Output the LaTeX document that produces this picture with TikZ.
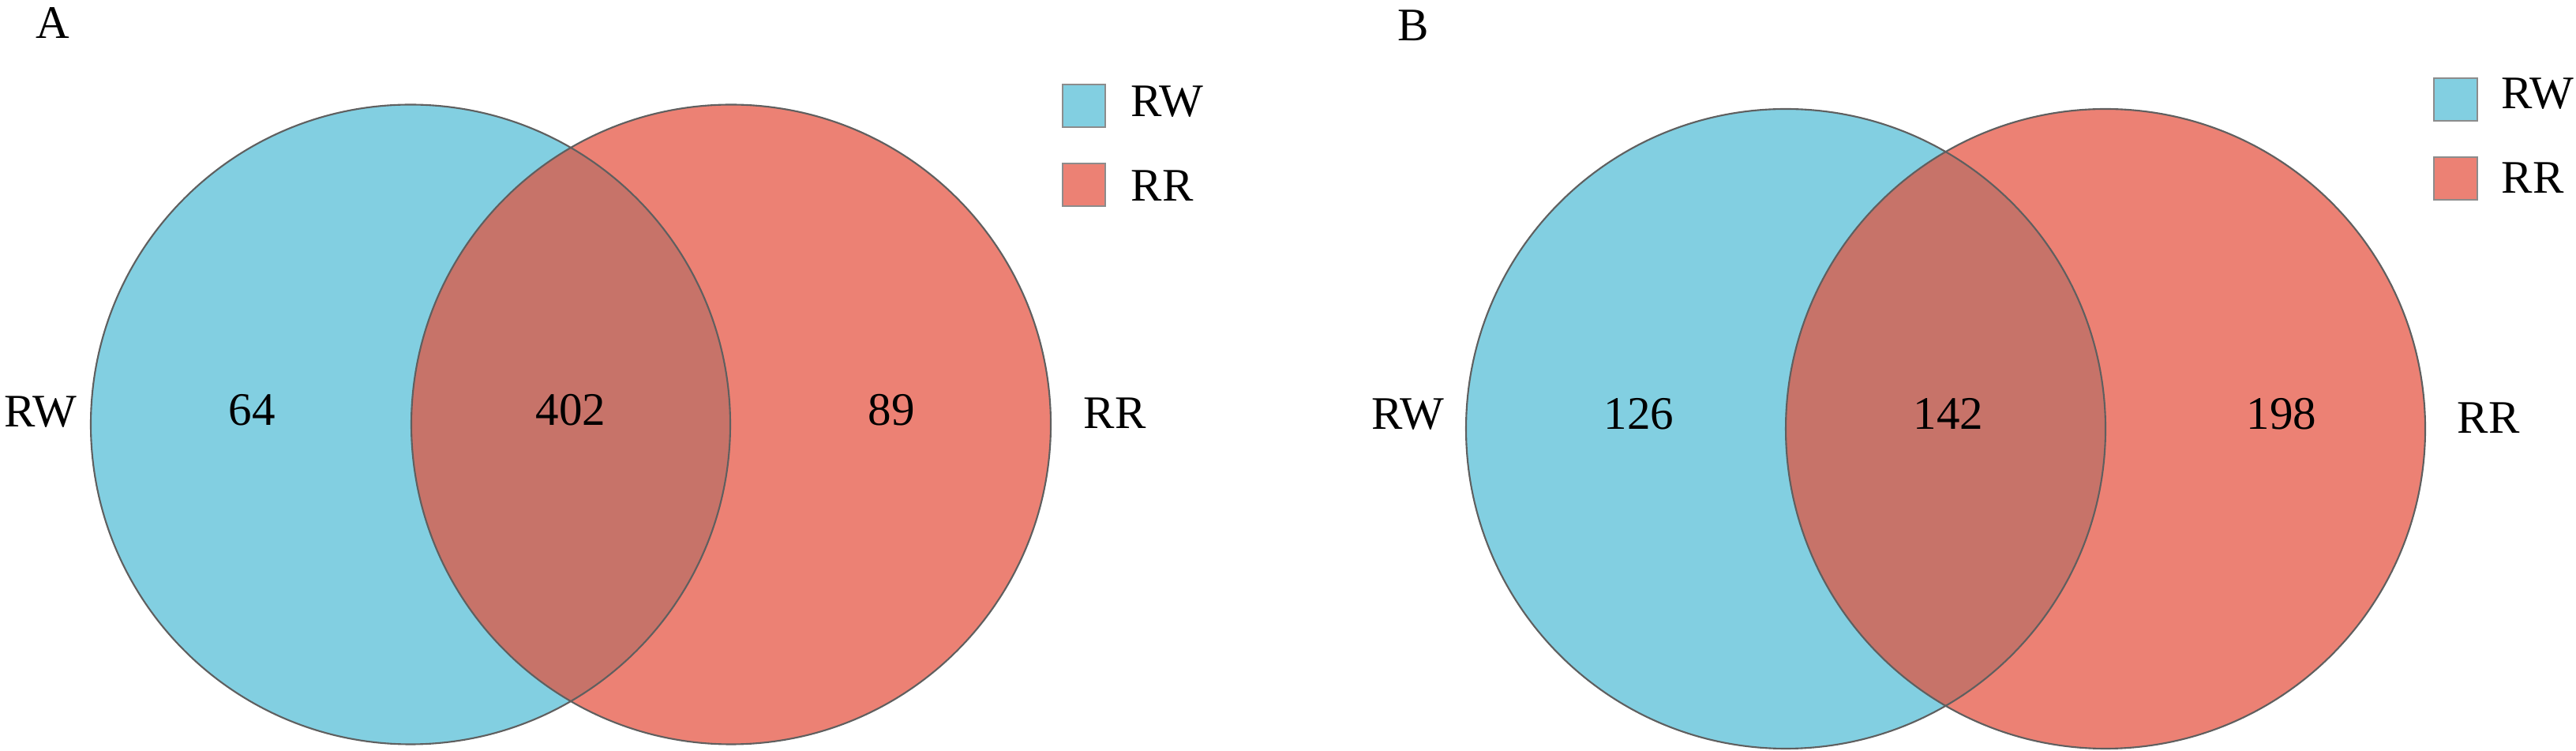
\documentclass[tikz,border=0pt]{standalone}
\usepackage{fontspec}
\setmainfont{Liberation Serif}
\usepackage{tikz}

\definecolor{rwblue}{RGB}{130,207,225}
\definecolor{rrred}{RGB}{236,129,116}
\definecolor{rwrr}{RGB}{199,115,105}
\definecolor{rimgray}{RGB}{95,95,95}
\definecolor{keygray}{RGB}{140,140,140}

\begin{document}
\begin{tikzpicture}[every node/.style={inner sep=0pt, font=\fontsize{16.8}{20}\selectfont},
                    rim/.style={draw=rimgray, line width=0.6pt},
                    keybox/.style={draw=keygray, line width=0.6pt}]
            \useasboundingbox (0,0) rectangle (32.63,9.5);

            % panel A
            \fill[rwblue] (5.20,4.125) circle (4.05);
            \fill[rrred] (9.26,4.125) circle (4.05);
            \begin{scope}
                \clip (5.20,4.125) circle (4.05);
                \fill[rwrr] (9.26,4.125) circle (4.05);
            \end{scope}
            \draw[rim] (5.20,4.125) circle (4.05);
            \draw[rim] (9.26,4.125) circle (4.05);

            \node[anchor=base] (tagA) at (0.67,9.01) {A};
            \node[anchor=base] (setAl) at (0.51,4.09) {RW};
            \node[anchor=base] (setAr) at (14.12,4.07) {RR};
            \node[anchor=base] (onlyAl) at (3.19,4.11) {64};
            \node[anchor=base] (bothA) at (7.23,4.11) {402};
            \node[anchor=base] (onlyAr) at (11.29,4.11) {89};

            \draw[keybox, fill=rwblue] (13.46,7.89) rectangle (14.00,8.43);
            \draw[keybox, fill=rrred] (13.46,6.89) rectangle (14.00,7.43);
            \node[anchor=base west] (keyAw) at (14.32,8.02) {RW};
            \node[anchor=base west] (keyAr) at (14.32,6.95) {RR};

            % panel B
            \fill[rwblue] (22.62,4.07) circle (4.05);
            \fill[rrred] (26.67,4.07) circle (4.05);
            \begin{scope}
                \clip (22.62,4.07) circle (4.05);
                \fill[rwrr] (26.67,4.07) circle (4.05);
            \end{scope}
            \draw[rim] (22.62,4.07) circle (4.05);
            \draw[rim] (26.67,4.07) circle (4.05);

            \node[anchor=base] (tagB) at (17.90,8.98) {B};
            \node[anchor=base] (setBl) at (17.83,4.06) {RW};
            \node[anchor=base] (setBr) at (31.52,4.01) {RR};
            \node[anchor=base] (onlyBl) at (20.76,4.06) {126};
            \node[anchor=base] (bothB) at (24.68,4.06) {142};
            \node[anchor=base] (onlyBr) at (28.90,4.06) {198};

            \draw[keybox, fill=rwblue] (30.83,7.97) rectangle (31.38,8.51);
            \draw[keybox, fill=rrred] (30.83,6.97) rectangle (31.38,7.51);
            \node[anchor=base west] (keyBw) at (31.68,8.12) {RW};
            \node[anchor=base west] (keyBr) at (31.68,7.05) {RR};
        \end{tikzpicture}
\end{document}
